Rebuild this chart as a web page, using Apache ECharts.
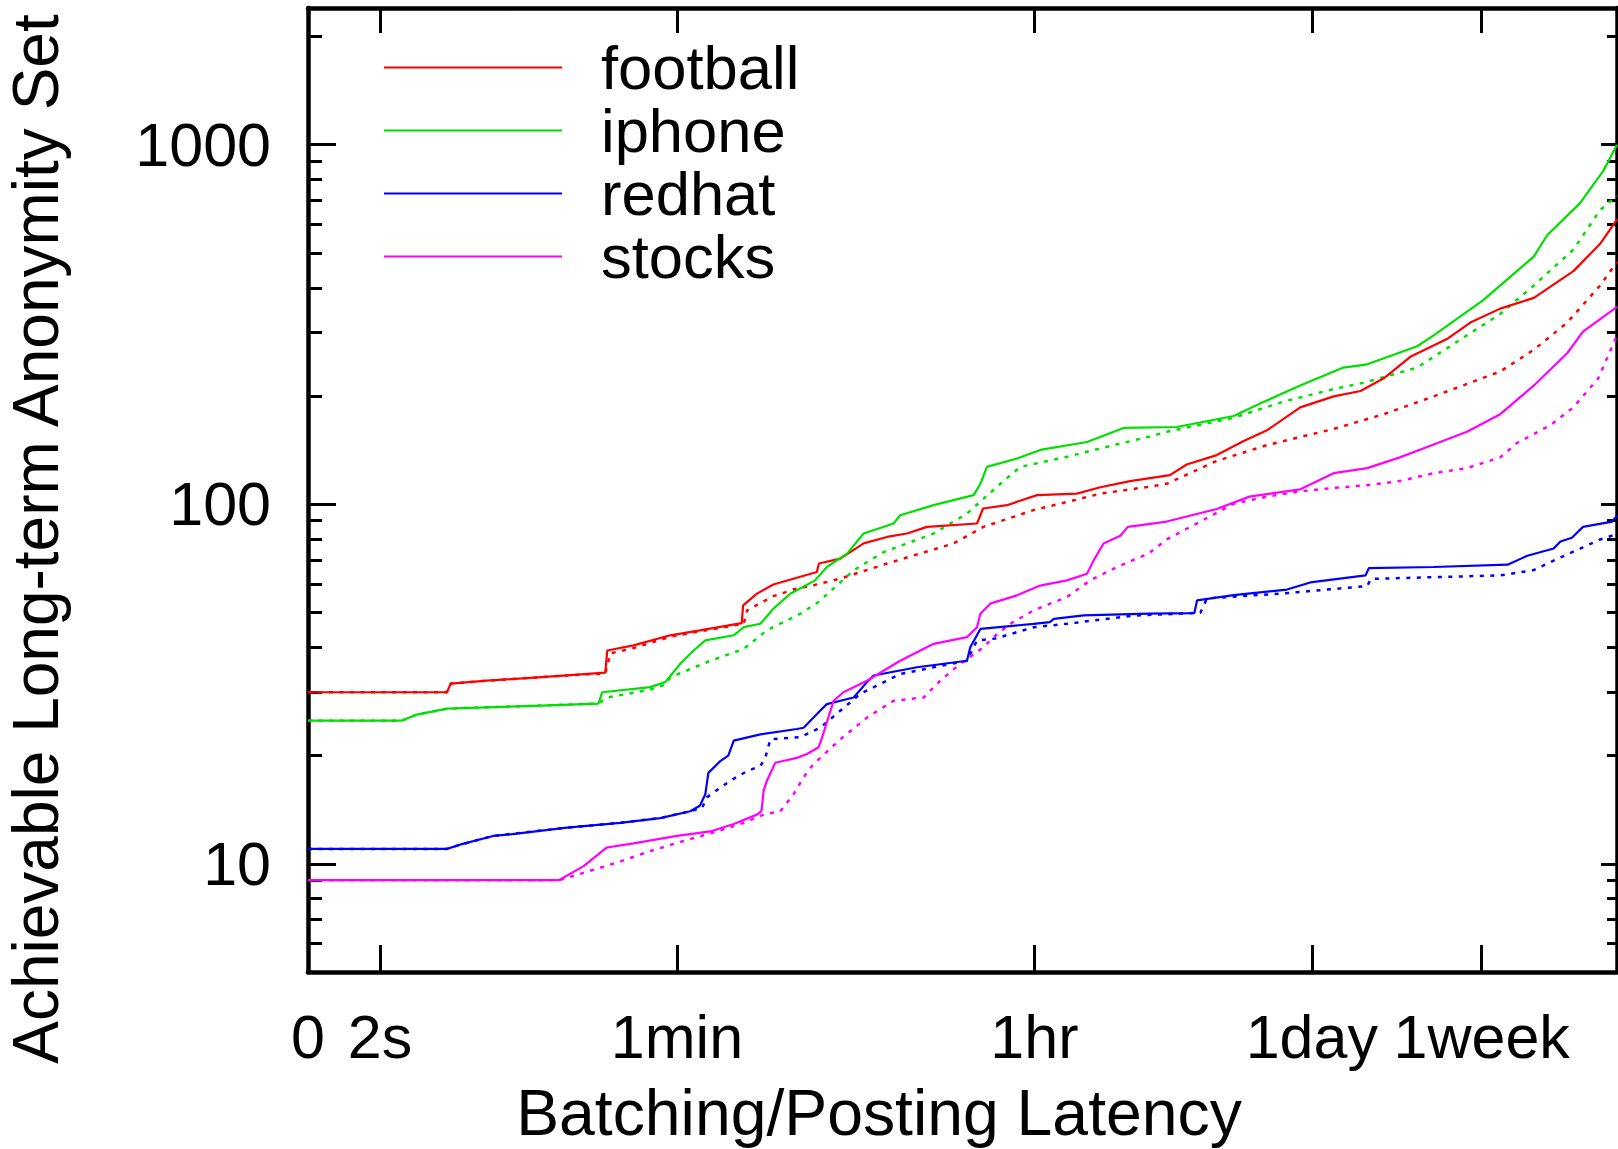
<!DOCTYPE html>
<html>
<head>
<meta charset="utf-8">
<title>Achievable Long-term Anonymity Set vs Batching/Posting Latency</title>
<script src="https://cdn.jsdelivr.net/npm/echarts@6/dist/echarts.min.js"></script>
<style>
  html, body { margin: 0; padding: 0; background: #ffffff; }
  #chart { width: 1618px; height: 1149px; }
</style>
</head>
<body>
<div id="chart"></div>
<script>
// Each point: [latency in seconds (0 = no batching), anonymity set size]
const footballSolid = [
  [0, 30], [4.3, 30], [4.5, 31.7], [6.8, 32.3], [17, 33.4], [26.4, 34.0], [27, 39.2],
  [36.5, 40.5], [55.6, 43.2], [78, 44.6], [126, 46.7], [128, 52.3], [150, 56.4],
  [181, 59.8], [298, 64.8], [305, 68.4], [390, 70.6], [509, 77.8], [665, 81.1],
  [836, 82.9], [1052, 86.5], [1866, 88.4], [2000, 97.3], [2630, 99.4], [3710, 106],
  [5860, 107], [7660, 111.5], [10770, 116], [17000, 120.5], [20600, 129], [29100, 137],
  [39600, 150], [51700, 160.5], [75700, 186], [111000, 199.5], [151000, 206.5],
  [197000, 224], [267000, 257], [406000, 288], [531000, 320], [748000, 350],
  [1100000, 375], [1730000, 445], [2350000, 530], [2850000, 620]
];
const footballDotted = [
  [0, 30], [4.3, 30], [4.5, 31.7], [6.8, 32.3], [17, 33.4], [26.4, 33.8], [28, 38.5],
  [36.5, 39.8], [55.6, 42.8], [78, 44.3], [129, 46.5], [134, 50.7], [181, 55.5],
  [230, 58], [286, 59.5], [390, 62.1], [665, 68.4], [1427, 77.8], [2010, 86.5],
  [3570, 96.3], [7660, 107], [13300, 111.8], [16400, 114], [29100, 132], [51700, 146],
  [111000, 162], [197000, 178], [349000, 199.5], [748000, 234], [1100000, 269],
  [1610000, 320], [2350000, 406], [2850000, 472]
];
const iphoneSolid = [
  [0, 25], [2.55, 25], [3.05, 26], [4.3, 27], [11.6, 27.5], [24.4, 27.9], [25.5, 30],
  [44.2, 31], [52.5, 32], [62.3, 36], [72.6, 39.2], [83, 41.8], [115, 43.2], [129, 45.5],
  [156, 46.5], [181, 51.2], [220, 56.4], [292, 61.4], [334, 66.9], [421, 72.9],
  [509, 82.9], [718, 88.4], [774, 93.2], [1135, 99.4], [1795, 106], [1940, 114],
  [2090, 127], [2950, 134], [3850, 141.6], [6580, 149], [10000, 163], [18400, 164],
  [35300, 176], [47800, 190.6], [75700, 214], [124000, 240], [163000, 245],
  [289000, 275], [349000, 295], [618000, 370], [1100000, 489], [1280000, 560],
  [1870000, 689], [2440000, 847], [2850000, 1000]
];
const iphoneDotted = [
  [0, 25], [2.55, 25], [3.05, 26], [4.3, 27], [11.6, 27.5], [24.4, 27.9], [27, 29],
  [44.2, 30.5], [52.5, 31.5], [55.6, 33], [88, 36.7], [129, 39.6], [168, 44.6],
  [247, 49.6], [304, 53.5], [454, 65.5], [640, 73.6], [1135, 82.9], [1663, 94.2],
  [2440, 114], [3060, 127], [5230, 135.5], [7660, 143], [13300, 154], [16400, 159],
  [35300, 174], [62500, 193], [111000, 209], [163000, 219], [289000, 240],
  [511000, 295], [748000, 338], [1100000, 406], [1730000, 511], [2350000, 658],
  [2850000, 721]
];
const redhatSolid = [
  [0, 11], [4.3, 11], [5.0, 11.3], [7.3, 11.95], [8.9, 12.07], [17, 12.6], [31.3, 13.0],
  [49.6, 13.4], [69.8, 14.0], [78, 14.5], [83, 15.6], [86, 17.9], [98.5, 19.3],
  [108, 20], [115, 22.0], [156, 22.9], [237, 23.7], [256, 23.9], [310, 26.7],
  [334, 27.8], [454, 29.0], [529, 32.0], [571, 33.4], [938, 35.2], [1663, 36.7],
  [1727, 40], [1940, 45], [3570, 46.5], [4300, 47], [4500, 48], [6330, 49.1],
  [13300, 49.6], [22500, 49.8], [23200, 54], [35300, 55.9], [65000, 57.9],
  [84900, 60.6], [160000, 63.4], [166000, 66.4], [349000, 66.9], [813000, 67.9],
  [1020000, 71.9], [1380000, 75.3], [1490000, 78.8], [1700000, 80.7], [1930000, 86.5],
  [2700000, 89.5], [2850000, 93]
];
const redhatDotted = [
  [0, 11], [4.3, 11], [5.0, 11.3], [7.3, 11.95], [17, 12.6], [31.3, 13.0], [49.6, 13.4],
  [69.8, 14.0], [80, 14.3], [84.5, 15.3], [110, 17.0], [134, 18.1], [156, 18.7],
  [165, 19.7], [175, 22.2], [247, 22.5], [310, 23.9], [490, 29.7], [774, 33.7],
  [1135, 35.2], [1663, 36.7], [1866, 41.8], [2300, 42.3], [3570, 45.5], [5230, 46.5],
  [11200, 49], [24100, 49.9], [26000, 54.7], [62500, 56.5], [163000, 59.2],
  [170000, 62], [748000, 63.4], [1100000, 65.6], [1490000, 71.1], [1870000, 75.3],
  [2350000, 79.8], [2850000, 82.6]
];
const stocksSolid = [
  [0, 9], [15.5, 9], [20.6, 9.85], [26.9, 11.1], [36.5, 11.4], [60, 11.95], [88, 12.3],
  [115, 12.9], [150, 13.7], [158, 14.0], [162, 16.0], [168, 17.0], [185, 19.1],
  [237, 19.7], [266, 20.2], [304, 21.1], [316, 22.4], [361, 28.4], [404, 30.0],
  [529, 32.3], [774, 36.7], [1135, 40.9], [1663, 42.7], [1866, 45.5], [1940, 49.6],
  [2170, 52.9], [2950, 55.8], [3850, 59.4], [5230, 61.4], [6580, 64.1], [7100, 69.8],
  [7950, 77.8], [9640, 81.7], [10500, 86.5], [16400, 89.5], [29100, 97], [42300, 105],
  [75700, 110], [111000, 122], [163000, 126], [237000, 135], [349000, 146.6],
  [511000, 159], [748000, 178], [1100000, 214], [1610000, 263], [1930000, 302],
  [2850000, 354]
];
const stocksDotted = [
  [0, 9], [15.5, 9], [20.6, 9.44], [30.1, 10.07], [44.2, 10.85], [64.7, 11.57],
  [95, 12.3], [129, 13.0], [162, 13.7], [196, 14.0], [228, 15.6], [256, 17.4],
  [286, 18.9], [390, 22.2], [529, 25.5], [718, 28.4], [1012, 29.0], [1225, 32.3],
  [1540, 36.0], [2010, 40], [2255, 42.7], [2730, 46.5], [3570, 50.7], [5230, 55.2],
  [6820, 61.4], [9270, 66.9], [13300, 72.9], [16400, 79.8], [24100, 89.5],
  [35300, 100.3], [51700, 105], [75700, 108.6], [111000, 111], [163000, 113],
  [237000, 116], [349000, 122], [511000, 126], [748000, 135], [906000, 148],
  [1330000, 166], [1730000, 186], [2300000, 224], [2850000, 295]
];

const seriesNames = ['football', 'iphone', 'redhat', 'stocks'];
const solidData = [footballSolid, iphoneSolid, redhatSolid, stocksSolid];
const dottedData = [footballDotted, iphoneDotted, redhatDotted, stocksDotted];

// Tick positions (seconds) and their labels on the latency axis
const xTickValues = [2, 60, 3600, 86400, 604800];
const xTickLabels = ['2s', '1min', '1hr', '1day', '1week'];
const xZeroLabel = '0';

// Tick positions and labels on the anonymity-set axis
const yTickValues = [10, 100, 1000];
const yTickLabels = ['10', '100', '1000'];
const yMinorTicks = [5, 6, 7, 8, 9, 20, 30, 40, 50, 60, 70, 80, 90,
  200, 300, 400, 500, 600, 700, 800, 900, 2000];

// Axis ranges; zero latency sits at the left end of the log axis
const X_MIN = 0.876;
const X_MAX = 2.85e6;
const Y_MIN = 5;
const Y_MAX = 2400;

const colors = ['#ff0000', '#00e000', '#0000ff', '#ff00ff'];
const FONT = "'Liberation Sans', Arial, Helvetica, sans-serif";

const near = (a, b) => Math.abs(Math.log10(a / b)) < 1e-6;
const toPlot = pts => pts.map(([t, v]) => [t === 0 ? X_MIN : t, v]);

function xLabel(v) {
  if (near(v, X_MIN)) return xZeroLabel;
  const i = xTickValues.findIndex(t => near(v, t));
  return i >= 0 ? xTickLabels[i] : '';
}
function yLabel(v) {
  const i = yTickValues.findIndex(t => near(v, t));
  return i >= 0 ? yTickLabels[i] : '';
}

const series = [];
seriesNames.forEach((name, i) => {
  series.push({
    name: name + ' (dotted)',
    type: 'line',
    data: toPlot(dottedData[i]),
    showSymbol: false,
    symbol: 'none',
    lineStyle: { color: colors[i], width: 2.5, type: [4, 6.5] },
    itemStyle: { color: colors[i] },
    z: 2
  });
});
seriesNames.forEach((name, i) => {
  series.push({
    name: name,
    type: 'line',
    data: toPlot(solidData[i]),
    showSymbol: false,
    symbol: 'none',
    lineStyle: { color: colors[i], width: 2.2 },
    itemStyle: { color: colors[i] },
    z: 3
  });
});

const frameLine = { show: true, onZero: false, lineStyle: { color: '#000', width: 4.5 } };
const tickStyle = { color: '#000', width: 3 };

function yAxisDef(position, ticks, length, withLine, withLabels) {
  return {
    type: 'log', logBase: 10, min: Y_MIN, max: Y_MAX, position: position,
    axisLine: withLine ? frameLine : { show: false },
    axisTick: { show: true, inside: true, length: length, customValues: ticks, lineStyle: tickStyle },
    axisLabel: withLabels ? {
      show: true, customValues: yTickValues, formatter: yLabel, margin: 37,
      fontSize: 61, fontFamily: FONT, color: '#000'
    } : { show: false },
    splitLine: { show: false },
    minorTick: { show: false }
  };
}

const option = {
  animation: false,
  backgroundColor: '#ffffff',
  grid: { left: 308, right: 1, top: 8, bottom: 177, containLabel: false, outerBoundsMode: 'none' },
  legend: {
    data: seriesNames,
    orient: 'vertical',
    left: 384,
    top: 36,
    padding: 0,
    icon: 'rect',
    itemWidth: 178,
    itemHeight: 2.2,
    itemGap: 0,
    selectedMode: false,
    formatter: name => '{gap| }' + name,
    textStyle: {
      fontSize: 61.5, lineHeight: 63, fontFamily: FONT, color: '#000',
      rich: { gap: { width: 34, fontSize: 61.5, fontFamily: FONT } }
    }
  },
  xAxis: [
    {
      type: 'log', logBase: 10, min: X_MIN, max: X_MAX, position: 'bottom',
      axisLine: frameLine,
      axisTick: { show: true, inside: true, length: 27, customValues: xTickValues, lineStyle: tickStyle },
      axisLabel: {
        show: true, customValues: [X_MIN * (1 + 1e-9)].concat(xTickValues), formatter: xLabel,
        margin: 34, fontSize: 61, fontFamily: FONT, color: '#000'
      },
      splitLine: { show: false },
      minorTick: { show: false }
    },
    {
      type: 'log', logBase: 10, min: X_MIN, max: X_MAX, position: 'top',
      axisLine: frameLine,
      axisTick: { show: true, inside: true, length: 25, customValues: xTickValues, lineStyle: tickStyle },
      axisLabel: { show: false },
      splitLine: { show: false },
      minorTick: { show: false }
    }
  ],
  yAxis: [
    yAxisDef('left', yTickValues, 28, true, true),
    yAxisDef('left', yMinorTicks, 14, false, false),
    yAxisDef('right', yTickValues, 16, true, false),
    yAxisDef('right', yMinorTicks, 10, false, false)
  ],
  graphic: [
    {
      type: 'text', x: 879, y: 1113, silent: true,
      style: {
        text: 'Batching/Posting Latency', fontSize: 64.3, fontFamily: FONT,
        fill: '#000', align: 'center', verticalAlign: 'middle'
      }
    },
    {
      type: 'text', x: 36, y: 539, rotation: Math.PI / 2, silent: true,
      style: {
        text: 'Achievable Long-term Anonymity Set', fontSize: 64, fontFamily: FONT,
        fill: '#000', align: 'center', verticalAlign: 'middle'
      }
    }
  ],
  series: series
};

const chart = echarts.init(document.getElementById('chart'), null, { renderer: 'svg' });
chart.setOption(option);
</script>
</body>
</html>
